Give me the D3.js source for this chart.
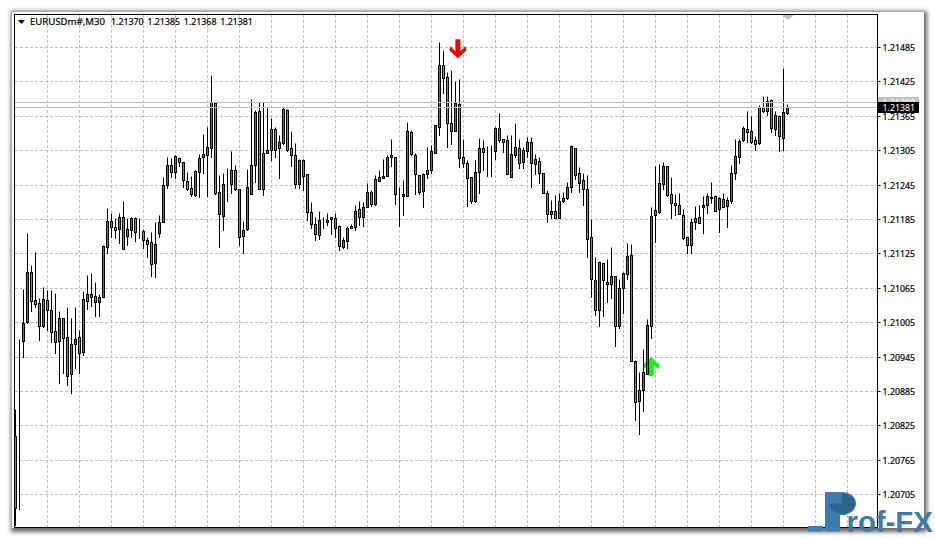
<!DOCTYPE html>
<html><head><meta charset="utf-8">
<script src="https://cdn.jsdelivr.net/npm/d3@7/dist/d3.min.js"></script>
<style>html,body{margin:0;padding:0;background:#fff}svg{display:block}text{font-family:"Noto Sans",sans-serif}</style>
</head><body><div id="chart"></div>
<script>
// Prices are stored as points above 1.20000 (1 point = 0.00001)
const priceBase = 1.2, point = 0.00001;
const opens=[806,972,972,1005,1092,1043,1038,998,1043,1026,989,972,1012,979,914,967,979,953,1042,1049,1050,1040,1049,1136,1181,1171,1167,1188,1155,1166,1187,1167,1164,1148,1145,1108,1160,1180,1244,1279,1267,1291,1284,1251,1239,1227,1267,1293,1297,1309,1387,1232,1190,1244,1246,1270,1237,1155,1167,1228,1279,1373,1237,1300,1305,1342,1309,1317,1375,1309,1297,1246,1288,1263,1197,1176,1157,1180,1180,1185,1187,1173,1136,1146,1169,1171,1202,1188,1206,1232,1211,1251,1256,1260,1293,1293,1228,1225,1225,1337,1297,1262,1234,1263,1270,1300,1345,1454,1433,1352,1338,1386,1293,1283,1258,1216,1267,1309,1303,1303,1303,1344,1324,1323,1258,1297,1309,1284,1303,1319,1281,1286,1265,1230,1194,1199,1187,1216,1221,1241,1309,1265,1253,1237,1153,1078,1026,1108,1075,1071,1085,998,1064,1089,1122,937,867,886,914,998,1192,1197,1246,1277,1228,1213,1209,1192,1153,1139,1180,1188,1206,1209,1221,1225,1202,1220,1208,1216,1265,1293,1323,1342,1338,1323,1317,1380,1373,1392,1342,1365,1326,1370];
const highs=[853,975,1063,1160,1105,1127,1047,1066,1061,1061,1056,1024,1012,1031,1012,1031,991,1059,1087,1091,1075,1054,1139,1204,1195,1187,1195,1216,1187,1188,1188,1187,1167,1153,1162,1180,1192,1258,1293,1291,1297,1293,1284,1267,1260,1270,1298,1333,1345,1436,1387,1262,1265,1274,1303,1279,1237,1181,1272,1394,1375,1389,1389,1380,1361,1345,1331,1380,1377,1338,1317,1290,1290,1263,1214,1188,1199,1188,1195,1188,1195,1174,1153,1173,1176,1209,1216,1214,1248,1235,1262,1270,1290,1297,1324,1293,1241,1253,1354,1340,1300,1262,1265,1310,1314,1349,1494,1480,1441,1445,1426,1429,1324,1288,1258,1288,1326,1323,1312,1314,1345,1370,1324,1331,1331,1352,1324,1310,1328,1328,1298,1293,1265,1235,1218,1227,1230,1232,1249,1314,1309,1276,1265,1262,1185,1119,1112,1108,1115,1136,1085,1080,1092,1143,1141,939,918,958,1010,1206,1277,1281,1284,1277,1258,1228,1230,1202,1153,1187,1208,1209,1225,1230,1249,1227,1223,1230,1223,1279,1324,1324,1347,1373,1365,1330,1384,1399,1399,1394,1373,1366,1448,1385];
const lows=[651,679,944,1003,1024,1031,974,996,991,970,951,899,916,895,881,925,916,948,1028,1033,1016,1016,1049,1125,1153,1152,1143,1132,1139,1153,1146,1152,1134,1119,1085,1084,1153,1180,1239,1258,1256,1277,1241,1235,1225,1225,1223,1265,1225,1293,1228,1136,1166,1216,1230,1235,1139,1125,1166,1228,1249,1237,1227,1300,1288,1293,1256,1316,1303,1277,1239,1239,1235,1183,1169,1148,1150,1169,1174,1159,1153,1131,1134,1134,1169,1166,1174,1173,1206,1208,1209,1251,1256,1260,1277,1211,1173,1192,1225,1297,1228,1228,1206,1256,1265,1300,1331,1405,1310,1316,1338,1276,1276,1208,1213,1214,1230,1270,1260,1260,1290,1319,1302,1263,1258,1293,1274,1274,1293,1241,1263,1248,1230,1180,1187,1187,1187,1214,1220,1232,1255,1232,1209,1119,1049,1017,998,1016,1040,1047,963,995,1021,1080,937,834,810,850,914,977,1145,1195,1237,1225,1187,1192,1194,1150,1125,1125,1167,1178,1160,1195,1213,1199,1162,1206,1171,1213,1255,1283,1321,1319,1317,1305,1316,1372,1366,1337,1331,1303,1305,1368];
const closes=[681,972,1003,1092,1042,1037,998,1045,1026,988,970,1012,977,911,967,975,951,1045,1054,1054,1040,1049,1138,1181,1171,1166,1188,1132,1167,1187,1162,1167,1148,1141,1106,1141,1180,1244,1279,1267,1295,1284,1253,1237,1228,1269,1291,1298,1310,1389,1230,1194,1246,1244,1270,1237,1153,1166,1241,1279,1372,1237,1300,1305,1342,1305,1319,1377,1305,1297,1246,1288,1260,1197,1176,1159,1183,1180,1183,1188,1169,1138,1148,1169,1173,1199,1188,1206,1232,1211,1255,1258,1260,1293,1297,1228,1228,1228,1338,1298,1263,1232,1263,1270,1303,1349,1454,1431,1352,1338,1387,1291,1283,1256,1216,1267,1309,1302,1303,1303,1344,1323,1319,1263,1298,1310,1283,1305,1319,1283,1290,1265,1230,1194,1199,1187,1216,1221,1241,1312,1262,1248,1237,1150,1080,1026,1110,1078,1071,1085,998,1064,1091,1120,937,866,886,918,1000,1190,1201,1248,1277,1227,1213,1209,1194,1152,1139,1180,1187,1178,1209,1225,1223,1199,1221,1206,1218,1265,1295,1321,1344,1337,1319,1316,1380,1373,1391,1344,1366,1330,1372,1381];
const tickLabels=["1.21485","1.21425","1.21365","1.21305","1.21245","1.21185","1.21125","1.21065","1.21005","1.20945","1.20885","1.20825","1.20765","1.20705"];
const askPrice=1.21390, bidPrice=1.21381;
const askLabel="1.21390", bidLabel="1.21381";
const headerSymbol="EURUSDm#,M30", headerOHLC="1.21370 1.21385 1.21368 1.21381";
const sellSignal={bar:110.6,price:1.21483}, buySignal={bar:158.9,price:1.20928};
const gridSteps=d3.range(26);

const W=935,H=538,FS=8.8;
const plot={l:14,t:14,r:877,b:527};
const svg=d3.select("#chart").append("svg").attr("width",W).attr("height",H);
const defs=svg.append("defs");
defs.append("clipPath").attr("id","plotClip").append("rect").attr("x",plot.l+1).attr("y",plot.t+1).attr("width",plot.r-plot.l-1).attr("height",plot.b-plot.t-1);
const blur=defs.append("filter").attr("id","sh").attr("x","-5%").attr("y","-5%").attr("width","110%").attr("height","110%");
blur.append("feGaussianBlur").attr("stdDeviation",2);

// window and its shadow
svg.append("rect").attr("x",11).attr("y",11).attr("width",916).attr("height",521).attr("fill","#666").attr("filter","url(#sh)");
svg.append("rect").attr("x",11).attr("y",11).attr("width",913).attr("height",517).attr("fill","#fff");
svg.append("path").attr("d","M11.5 528V11.5H923.5").attr("fill","none").attr("stroke","#a8a8a8");

const x=d3.scaleLinear().domain([0,193]).range([15.5,787.5]);
const y=d3.scaleLinear().domain([1.21485,1.20705]).range([47.6,494.6]);
const py=v=>Math.floor(y(v))+0.5;
const P=v=>priceBase+v*point;

// grid
const grid=svg.append("g").attr("stroke","#c0c0c0").attr("stroke-dasharray","3,2").attr("fill","none");
tickLabels.forEach(t=>grid.append("line").attr("x1",plot.l+1).attr("x2",plot.r).attr("y1",py(+t)).attr("y2",py(+t)));
gridSteps.forEach(k=>{const gx=47.5+32*k;grid.append("line").attr("x1",gx).attr("x2",gx).attr("y1",plot.t+1).attr("y2",plot.b)});

// arrows under the candles
const arrow=(bar,price,dir,color)=>{
  const cx=x(bar),cy=y(price);
  const d="M-2.5 -9.5H2.5V2.5L7.5 -2.5L8.5 1.5L0 9.5L-8.5 1.5L-7.5 -2.5L-2.5 2.5Z";
  svg.append("path").attr("d",d).attr("transform",`translate(${cx},${cy}) scale(1,${dir>0?-1:1})`).attr("fill",color);
};
arrow(sellSignal.bar,sellSignal.price,-1,"#ff0000");
arrow(buySignal.bar,buySignal.price,1,"#00ff00");

// candles
const bars=opens.map((o,i)=>({i,o:P(o),h:P(highs[i]),l:P(lows[i]),c:P(closes[i])}));
const cg=svg.append("g").attr("clip-path","url(#plotClip)");
cg.selectAll("line.wick").data(bars).join("line").attr("class","wick")
  .attr("x1",d=>x(d.i)).attr("x2",d=>x(d.i)).attr("y1",d=>py(d.h)).attr("y2",d=>py(d.l)+0.5).attr("stroke","#000");
cg.selectAll("rect.body").data(bars).join("rect").attr("class","body")
  .attr("x",d=>x(d.i)-1).attr("width",2)
  .attr("y",d=>py(Math.max(d.o,d.c)))
  .attr("height",d=>Math.max(0,py(Math.min(d.o,d.c))-py(Math.max(d.o,d.c))))
  .attr("fill",d=>d.c>=d.o?"#2a8a80":"#e0605a").attr("stroke","#000");

// ask / bid lines
[askPrice,bidPrice].forEach(p=>svg.append("line").attr("x1",plot.l+1).attr("x2",plot.r).attr("y1",py(p)).attr("y2",py(p)).attr("stroke","#c0c0c0"));

// frame
svg.append("rect").attr("x",plot.l+.5).attr("y",plot.t+.5).attr("width",plot.r-plot.l).attr("height",plot.b-plot.t).attr("fill","none").attr("stroke","#000");

// axis
const yAxis=d3.axisRight(y).tickValues(tickLabels.map(Number)).tickFormat(d=>d3.format(".5f")(d)).tickSize(3).tickPadding(2);
const ax=svg.append("g").attr("transform",`translate(${plot.r+.5},0)`).call(yAxis);
ax.select(".domain").remove();
ax.selectAll(".tick").attr("transform",d=>`translate(0,${py(d)})`);
ax.selectAll("text").attr("font-size",FS).attr("fill","#000").attr("stroke","#000").attr("stroke-width",0.2).attr("style","font-family:'Noto Sans'").attr("x",5).attr("dy","0.35em");

// price tags
const tag=(p,label,bg,fg)=>{
  const cy=py(p);
  svg.append("rect").attr("x",878).attr("y",cy-5.5).attr("width",41).attr("height",11).attr("fill",bg);
  svg.append("text").attr("x",882.5).attr("y",cy).attr("dy","0.35em").attr("font-size",FS).attr("fill",fg).text(label);
};
tag(askPrice,askLabel,"#c0c0c0","#fff");
tag(bidPrice,bidLabel,"#000","#fff");

// header
svg.append("path").attr("d","M18 20H25L21.5 24Z").attr("fill","#000");
svg.append("text").attr("x",30).attr("y",22).attr("dy","0.35em").attr("font-size",9.6).attr("fill","#000").attr("stroke","#000").attr("stroke-width",0.2).text(headerSymbol);
svg.append("text").attr("x",111).attr("y",22).attr("dy","0.35em").attr("font-size",FS).attr("word-spacing",1.6).attr("fill","#000").attr("stroke","#000").attr("stroke-width",0.2).text(headerOHLC);

// chart-shift marker
svg.append("path").attr("d","M782 15H794L788 20Z").attr("fill","#c0c0c0");

// watermark
const wm=svg.append("g");
const wmLight="#3a7cab", wmDark="#2d638c";
const pie=d3.arc().innerRadius(0).outerRadius(1).startAngle(0).endAngle(Math.PI*1.5);
wm.append("ellipse").attr("cx",842).attr("cy",503.5).attr("rx",14).attr("ry",11.5).attr("fill",wmLight);
wm.append("rect").attr("x",808).attr("y",526).attr("width",15).attr("height",5.5).attr("fill",wmLight);
wm.append("rect").attr("x",825).attr("y",492).attr("width",15).attr("height",39.5).attr("fill",wmLight);
wm.append("path").attr("d",pie()).attr("transform","translate(842,503.5) scale(13,10)").attr("fill",wmDark);
wm.append("text").attr("x",846.5).attr("y",531.5).attr("font-size",29.3).attr("font-weight",700).attr("style","font-family:'Liberation Sans'").attr("fill",wmLight).text("rof-FX");
</script></body></html>
